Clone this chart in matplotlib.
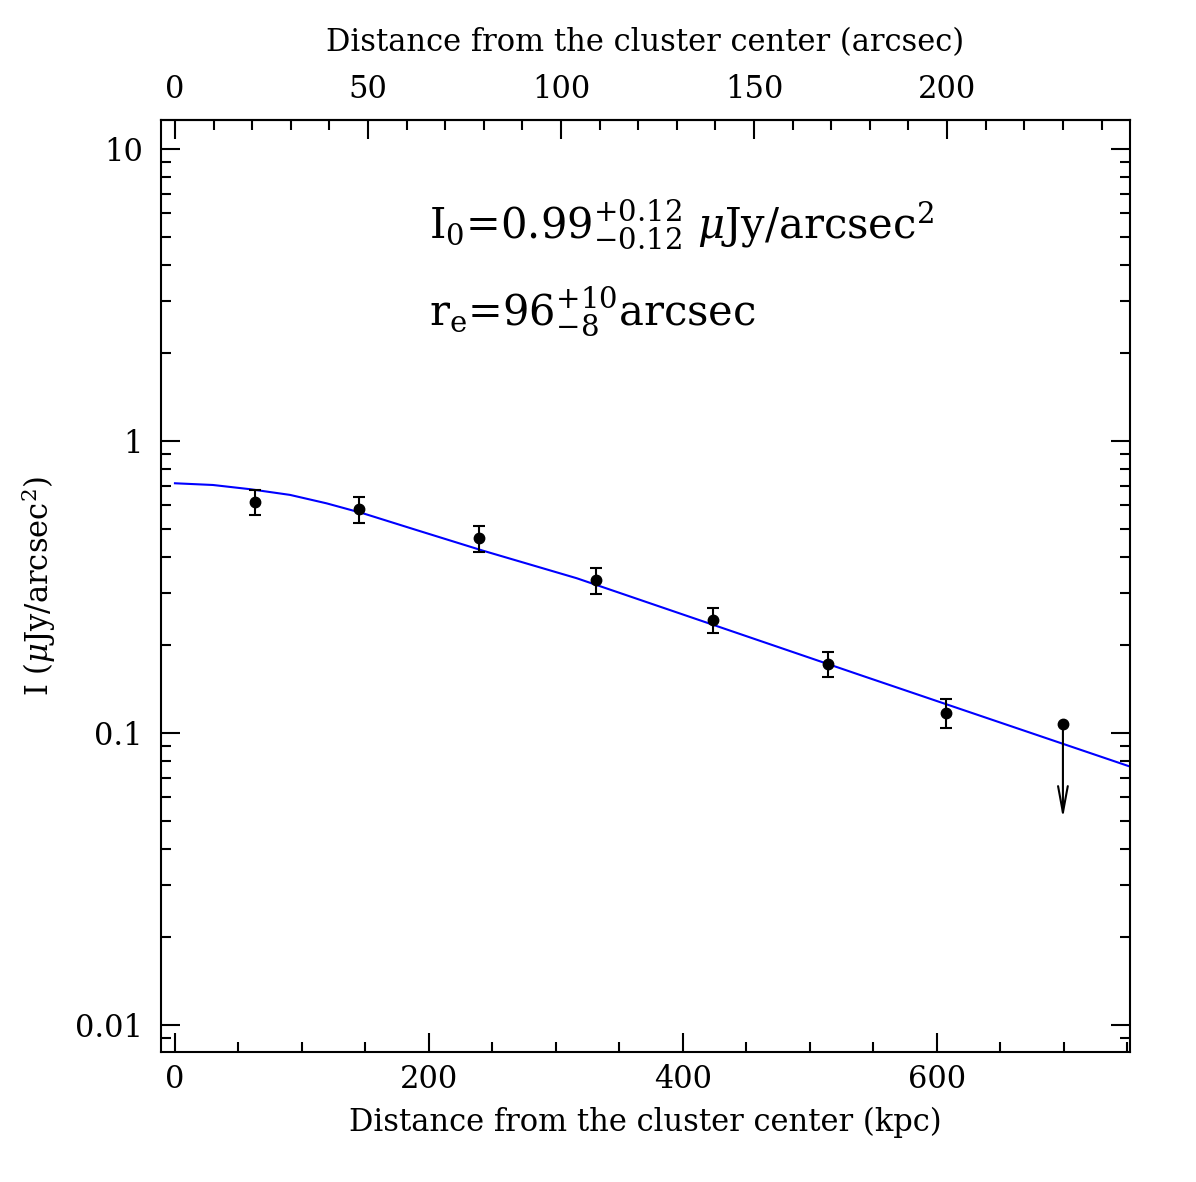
import matplotlib
matplotlib.use("Agg")
import matplotlib.pyplot as plt
import numpy as np
from matplotlib.ticker import MultipleLocator, LogLocator, NullFormatter, FixedLocator

plt.rcParams['font.family'] = ['DejaVu Serif']
plt.rcParams['mathtext.fontset'] = 'dejavuserif'

# measured points (kpc, uJy/arcsec^2)
r_kpc = [63.2, 144.6, 239.4, 331.5, 423.4, 514.2, 606.9]
flux = [0.618, 0.582, 0.464, 0.332, 0.2426, 0.1715, 0.117]
flux_hi = [0.678, 0.641, 0.510, 0.366, 0.2667, 0.1885, 0.1304]
flux_lo = [0.557, 0.524, 0.417, 0.299, 0.219, 0.1548, 0.1038]

# upper limit point
lim_r = 699.2
lim_flux = 0.1071
lim_tip = 0.0509

# fitted model curve
model_r = [0, 29.9, 59.1, 90.6, 119.4, 148, 190.3, 242.5, 316.3, 539.4, 750.6]
model_flux = [0.7146, 0.705, 0.682, 0.652, 0.610, 0.564, 0.494, 0.420, 0.338, 0.1576, 0.0769]

kpc_per_arcsec = 3.04
top_major = [0, 50, 100, 150, 200]
top_minor = list(range(10, 250, 10))

fig = plt.figure(figsize=(11.96, 11.82), dpi=100)
ax = fig.add_axes([0.1346, 0.11, 0.8102, 0.7885])

ax.plot(model_r, model_flux, color='#0000ff', lw=1.5, zorder=2)

err = [np.array(flux) - np.array(flux_lo), np.array(flux_hi) - np.array(flux)]
ax.errorbar(r_kpc, flux, yerr=err, fmt='o', color='black', ms=7.5,
            capsize=4, elinewidth=1.5, capthick=1.5, zorder=3)

ax.plot([lim_r], [lim_flux], 'o', color='black', ms=7.5, zorder=3)
ax.annotate('', xy=(lim_r, lim_tip), xytext=(lim_r, lim_flux),
            arrowprops=dict(arrowstyle='->,head_length=1.9,head_width=0.35',
                            color='black', lw=1.5, shrinkA=0, shrinkB=0))

ax.set_yscale('log')
ax.set_xlim(-11, 752)
ax.set_ylim(0.00806, 12.54)

ax.xaxis.set_major_locator(MultipleLocator(200))
ax.xaxis.set_minor_locator(MultipleLocator(50))
ax.yaxis.set_major_locator(FixedLocator([0.01, 0.1, 1, 10]))
ax.yaxis.set_minor_locator(LogLocator(base=10, subs=np.arange(2, 10), numticks=20))
ax.yaxis.set_minor_formatter(NullFormatter())
ax.set_yticklabels(['0.01', '0.1', '1', '10'])

ax.tick_params(which='both', direction='in', right=True, width=1.5, labelsize=22)
ax.tick_params(axis='x', which='both', top=False, pad=9)
ax.tick_params(axis='y', pad=13)
ax.tick_params(which='major', length=14)
ax.tick_params(which='minor', length=7)
for s in ax.spines.values():
    s.set_linewidth(1.5)

ax.set_xlabel('Distance from the cluster center (kpc)', fontsize=22, labelpad=8)
ax.set_ylabel(r'I ($\mu$Jy/arcsec$^2$)', fontsize=22)
ax.yaxis.set_label_coords(-0.106, 0.5)

top = ax.secondary_xaxis('top', functions=(lambda x: x / kpc_per_arcsec,
                                            lambda a: a * kpc_per_arcsec))
top.xaxis.set_major_locator(FixedLocator(top_major))
top.xaxis.set_minor_locator(FixedLocator(top_minor))
top.tick_params(which='both', direction='in', width=1.5, labelsize=22, pad=11)
top.tick_params(which='major', length=14)
top.tick_params(which='minor', length=7)
top.spines['top'].set_linewidth(1.5)
top.set_xlabel('Distance from the cluster center (arcsec)', fontsize=22, labelpad=16)

ax.text(0.277, 0.887, r'I$_0$=0.99$^{+0.12}_{-0.12}$ $\mu$Jy/arcsec$^2$',
        transform=ax.transAxes, fontsize=30, va='center', ha='left')
ax.text(0.277, 0.794, r'r$_\mathrm{e}$=96$^{+10}_{-8}$arcsec',
        transform=ax.transAxes, fontsize=30, va='center', ha='left')

fig.savefig('out.png', dpi=100)
